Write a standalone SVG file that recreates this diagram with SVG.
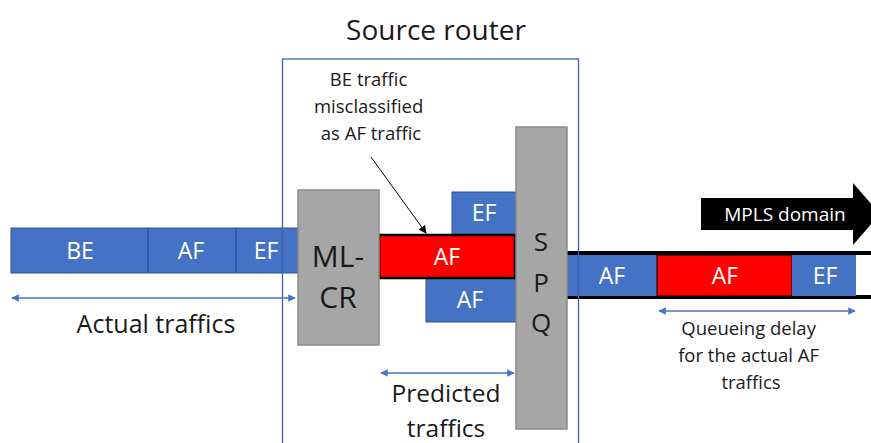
<svg xmlns="http://www.w3.org/2000/svg" width="871" height="443" viewBox="0 0 871 443">
  <style>
    .blue { fill: #4472c4; stroke: #2f5597; stroke-width: 1; }
    .red { fill: #ff0000; stroke: #000; stroke-width: 2.5; }
    .gray { fill: #a6a6a6; stroke: #8a8a8a; stroke-width: 1.5; }
    .wt { font-family: "Open Sans", "Liberation Sans", sans-serif; fill: #fff; font-size: 23px; text-anchor: middle; }
    .bt { font-family: "Open Sans", "Liberation Sans", sans-serif; fill: #1a1a1a; text-anchor: middle; }
    .dim { stroke: #4472c4; stroke-width: 1.5; fill: none; marker-start: url(#ah); marker-end: url(#ah); }
  </style>
  <defs>
    <marker id="ah" viewBox="0 0 10 10" refX="9" refY="5" markerWidth="5" markerHeight="5" orient="auto-start-reverse" markerUnits="strokeWidth">
      <path d="M0,0 L10,5 L0,10 z" fill="#4472c4"/>
    </marker>
    <marker id="bh" viewBox="0 0 10 10" refX="9" refY="5" markerWidth="8" markerHeight="8" orient="auto" markerUnits="userSpaceOnUse">
      <path d="M0,0 L10,5 L0,10 z" fill="#000"/>
    </marker>
  </defs>

  <!-- incoming traffic bar -->
  <g id="incoming">
    <rect class="blue" x="11" y="228" width="288" height="45"/>
    <line x1="148" y1="228" x2="148" y2="273" stroke="#2f5597" stroke-width="1.5"/>
    <line x1="236" y1="228" x2="236" y2="273" stroke="#2f5597" stroke-width="1.5"/>
    <text class="wt" x="80" y="259">BE</text>
    <text class="wt" x="191" y="259">AF</text>
    <text class="wt" x="266" y="259">EF</text>
  </g>

  <!-- outgoing link into MPLS domain -->
  <g id="outgoing">
    <rect x="567" y="254" width="310" height="43" fill="#fff"/>
    <line x1="567" y1="253" x2="871" y2="253" stroke="#000" stroke-width="4"/>
    <line x1="567" y1="297" x2="871" y2="297" stroke="#000" stroke-width="4"/>
    <rect x="567" y="255" width="90" height="41" fill="#4472c4"/>
    <rect x="657" y="255" width="135" height="41" fill="#ff0000" stroke="#000" stroke-width="1"/>
    <rect x="792" y="255" width="64" height="41" fill="#4472c4"/>
    <text class="wt" x="612" y="284">AF</text>
    <text class="wt" x="725" y="284">AF</text>
    <text class="wt" x="825" y="284">EF</text>
  </g>

  <!-- predicted queues -->
  <g id="queue-ef">
    <rect class="blue" x="452" y="192" width="64" height="44"/>
    <text class="wt" x="484" y="221">EF</text>
  </g>
  <g id="queue-af">
    <rect class="blue" x="426" y="276" width="90" height="46"/>
    <text class="wt" x="470" y="308">AF</text>
  </g>
  <g id="queue-af-misclassified">
    <rect class="red" x="379" y="235" width="136" height="43"/>
    <text class="wt" x="447" y="265">AF</text>
  </g>

  <!-- classifier -->
  <g id="ml-cr">
    <rect class="gray" x="298" y="190" width="81" height="155"/>
    <text class="bt" x="338" y="267" font-size="30">ML-</text>
    <text class="bt" x="338" y="308" font-size="30">CR</text>
  </g>

  <!-- strict priority queue -->
  <g id="spq">
    <rect class="gray" x="516" y="127" width="51" height="302"/>
    <text class="bt" x="541" y="251" font-size="26">S</text>
    <text class="bt" x="541" y="292" font-size="26">P</text>
    <text class="bt" x="541" y="332" font-size="26">Q</text>
  </g>

  <!-- router boundary -->
  <g id="router">
    <rect x="282.5" y="59" width="296" height="400" fill="none" stroke="#3d62a8" stroke-width="1.3"/>
    <text class="bt" x="436" y="40" font-size="28">Source router</text>
  </g>

  <!-- MPLS domain arrow -->
  <g id="mpls">
    <path d="M701,198 H853 V183 L880,214 L853,245 V230 H701 Z" fill="#000"/>
    <text x="785" y="221" font-family="Open Sans, Liberation Sans, sans-serif" font-size="19" fill="#fff" text-anchor="middle">MPLS domain</text>
  </g>

  <!-- annotation -->
  <g id="annotation">
    <text class="bt" font-size="18.5">
      <tspan x="371" y="86">BE traffic</tspan>
      <tspan x="371" y="113">misclassified</tspan>
      <tspan x="371" y="140">as AF traffic</tspan>
    </text>
  </g>

  <g id="connectors">
    <line x1="371" y1="157" x2="426" y2="233" stroke="#000" stroke-width="1" marker-end="url(#bh)"/>
    <line class="dim" x1="12" y1="298" x2="295" y2="298"/>
    <line class="dim" x1="381" y1="373" x2="514" y2="373"/>
    <line class="dim" x1="659" y1="311" x2="855" y2="311"/>
  </g>

  <!-- dimension labels -->
  <g id="labels">
    <text class="bt" x="156" y="333" font-size="25">Actual traffics</text>
    <text class="bt" x="446" y="402" font-size="24.5">Predicted</text>
    <text class="bt" x="446" y="437" font-size="24.5">traffics</text>
    <text class="bt" font-size="18.5">
      <tspan x="751" y="335">Queueing delay</tspan>
      <tspan x="751" y="362">for the actual AF</tspan>
      <tspan x="751" y="389">traffics</tspan>
    </text>
  </g>
</svg>
